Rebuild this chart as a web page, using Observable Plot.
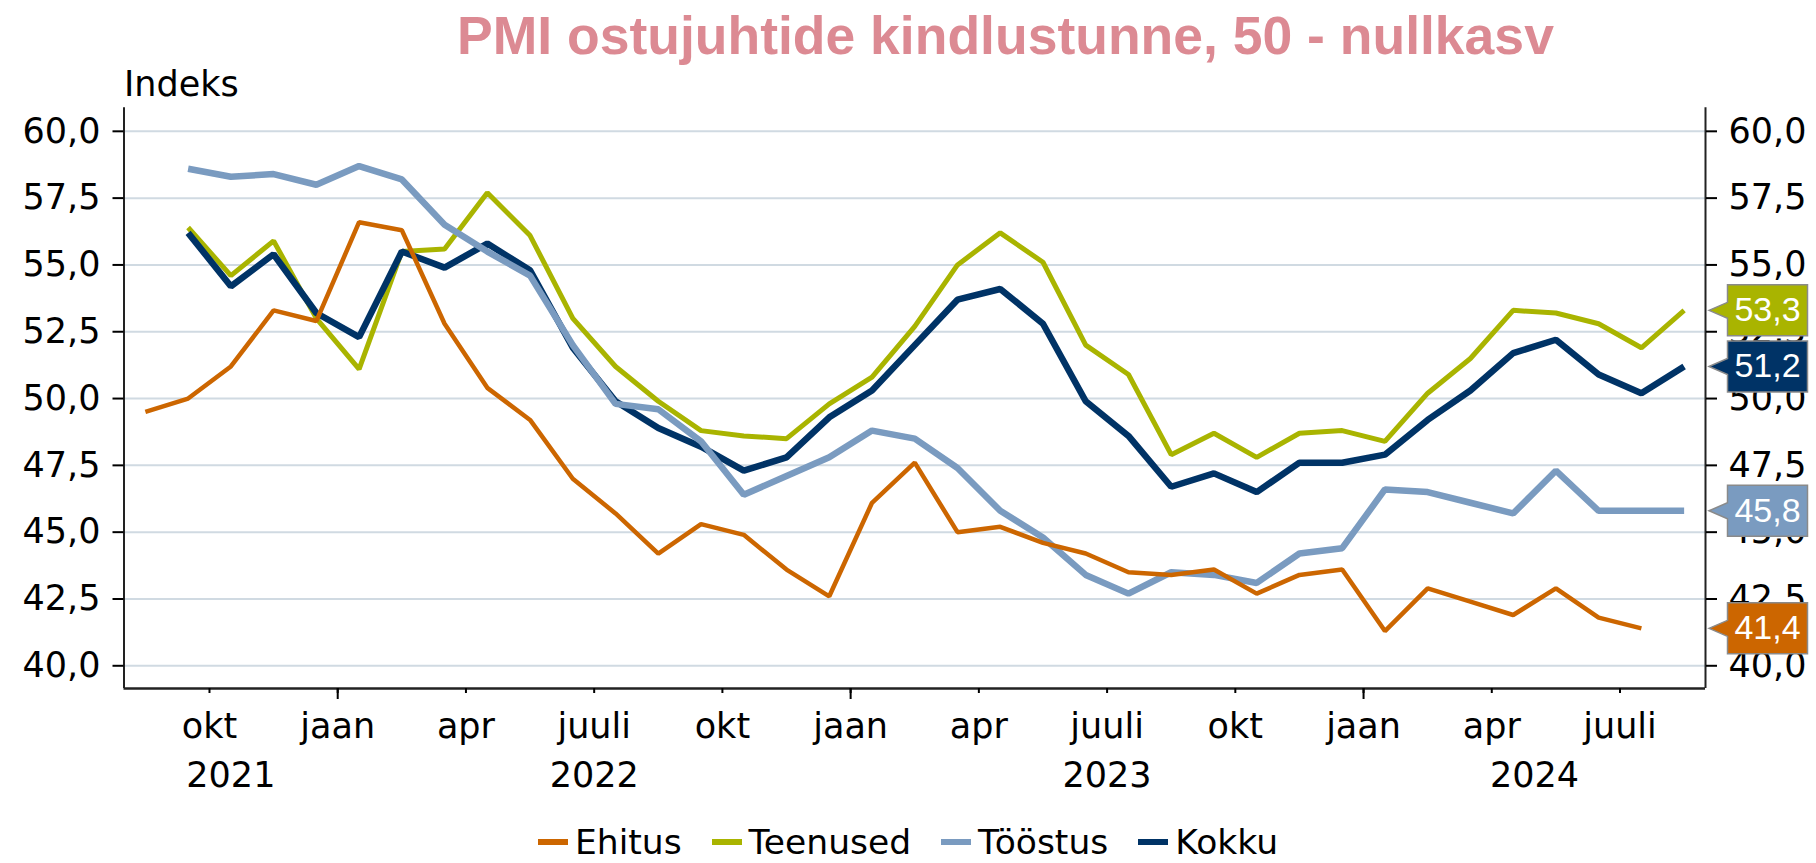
<!DOCTYPE html>
<html><head><meta charset="utf-8">
<script src="https://cdn.jsdelivr.net/npm/d3@7"></script>
<script src="https://cdn.jsdelivr.net/npm/@observablehq/plot@0.6"></script>
<style>
html,body{margin:0;padding:0;background:#fff;overflow:hidden}
#wrap{width:1816px;height:863px;position:relative;overflow:hidden}
#title{height:64px;position:relative}
#title span{position:absolute;left:457px;top:9px;font-family:"Liberation Sans",Arial,sans-serif;font-weight:bold;font-size:53.5px;line-height:1;color:#dc8a93;white-space:nowrap}
#chart svg{display:block}
#legend{height:36px;display:flex;justify-content:center;font-family:"DejaVu Sans";font-size:34.5px;line-height:36px;color:#000;position:relative;top:-3px}
.item{display:flex;align-items:center;margin:0 15px}
.sw{width:30px;height:6px;margin-right:7px}
</style></head>
<body><div id="wrap"><div id="title"><span>PMI ostujuhtide kindlustunne, 50 - nullkasv</span></div><div id="chart"></div><div id="legend"></div></div>
<script>
const months = ["2021-08","2021-09","2021-10","2021-11","2021-12",
  "2022-01","2022-02","2022-03","2022-04","2022-05","2022-06","2022-07","2022-08","2022-09","2022-10","2022-11","2022-12",
  "2023-01","2023-02","2023-03","2023-04","2023-05","2023-06","2023-07","2023-08","2023-09","2023-10","2023-11","2023-12",
  "2024-01","2024-02","2024-03","2024-04","2024-05","2024-06","2024-07","2024-08"];
const ehitus = [49.5,50.0,51.2,53.3,52.9,
  56.6,56.3,52.8,50.4,49.2,47.0,45.7,44.2,45.3,44.9,43.6,42.6,
  46.1,47.6,45.0,45.2,44.6,44.2,43.5,43.4,43.6,42.7,43.4,43.6,
  41.3,42.9,42.4,41.9,42.9,41.8,41.4,null];
const teenused = [null,56.4,54.6,55.9,53.0,
  51.1,55.5,55.6,57.7,56.1,53.0,51.2,49.9,48.8,48.6,48.5,49.8,
  50.8,52.7,55.0,56.2,55.1,52.0,50.9,47.9,48.7,47.8,48.7,48.8,
  48.4,50.2,51.5,53.3,53.2,52.8,51.9,53.3];
const toostus = [null,58.6,58.3,58.4,58.0,
  58.7,58.2,56.5,55.5,54.6,52.0,49.8,49.6,48.4,46.4,47.1,47.8,
  48.8,48.5,47.4,45.8,44.8,43.4,42.7,43.5,43.4,43.1,44.2,44.4,
  46.6,46.5,46.1,45.7,47.3,45.8,45.8,45.8];
const kokku = [null,56.2,54.2,55.4,53.2,
  52.3,55.5,54.9,55.8,54.8,51.9,49.9,48.9,48.2,47.3,47.8,49.3,
  50.3,52.0,53.7,54.1,52.8,49.9,48.6,46.7,47.2,46.5,47.6,47.6,
  47.9,49.2,50.3,51.7,52.2,50.9,50.2,51.2];
const seriesNames = ["Ehitus","Teenused","Tööstus","Kokku"];
const seriesColors = ["#cc6600","#a9b400","#7a9bc0","#003366"];
const seriesWidths = [4.5,5,6.5,6.5];
const quarterNames = {"01":"jaan","04":"apr","07":"juuli","10":"okt"};
const yearLabels = ["2021","2022","2023","2024"];
const yTicks = [40,42.5,45,47.5,50,52.5,55,57.5,60];
const yDomain = [39.15,60.88];
const yTitle = "Indeks";

const allValues = [ehitus, teenused, toostus, kokku];
const fmt = v => v.toFixed(1).replace(".", ",");
const rowsFor = k => months.map((m,i) => ({x: i + 0.5, y: allValues[k][i]}));
const nM = months.length;
const qTicks = months.map((m,i) => ({pos: i, mm: m.slice(5)})).filter(d => quarterNames[d.mm]);
const janTicks = qTicks.filter(d => d.mm === "01");
const yearRows = yearLabels.map(y => {
  const idx = months.map((m,i) => m.startsWith(y) ? i : -1).filter(i => i >= 0);
  return {year: y, center: (idx[0] + idx[idx.length-1] + 1) / 2};
});
const lastRows = seriesNames.map((s,k) => {
  const vals = allValues[k].filter(v => v != null);
  return {series: s, value: vals[vals.length-1], color: seriesColors[k]};
});
const callout = {draw(ctx) {
  ctx.moveTo(3.5, 0);
  ctx.lineTo(22, -8);
  ctx.lineTo(22, -25.5);
  ctx.lineTo(102, -25.5);
  ctx.lineTo(102, 25.5);
  ctx.lineTo(22, 25.5);
  ctx.lineTo(22, 8);
  ctx.closePath();
}};
const drawOrder = [1, 3, 2, 0];

const chart = Plot.plot({
  width: 1816, height: 763,
  marginTop: 43.3, marginBottom: 139, marginLeft: 123.5, marginRight: 111,
  x: {type: "linear", domain: [0, nM], label: null},
  y: {domain: yDomain, label: null},
  color: {type: "identity"},
  style: {fontFamily: "DejaVu Sans", background: "white", overflow: "visible", color: "#000"},
  marks: [
    Plot.gridY(yTicks, {stroke: "#d0dae2", strokeWidth: 2, strokeOpacity: 1}),
    ...drawOrder.map(k => Plot.line(rowsFor(k), {x: "x", y: "y", stroke: seriesColors[k], strokeWidth: seriesWidths[k], strokeLinejoin: "miter", strokeLinecap: "butt"})),
    Plot.ruleX([0, nM], {y1: yDomain[0], y2: yDomain[1], stroke: "#222", strokeWidth: 2}),
    Plot.ruleY([yDomain[0]], {stroke: "#222", strokeWidth: 2.5}),
    Plot.axisY(yTicks, {anchor: "left", tickSize: 11, tickPadding: 12.5, tickFormat: fmt, fontSize: 35, strokeWidth: 2, label: null}),
    Plot.axisY(yTicks, {anchor: "right", tickSize: 11, tickPadding: 12, tickFormat: fmt, fontSize: 35, strokeWidth: 2, label: null}),
    Plot.axisX(qTicks.map(d => d.pos), {tickSize: 5, tickFormat: () => "", strokeWidth: 2, label: null}),
    Plot.axisX(janTicks.map(d => d.pos), {tickSize: 11, tickFormat: () => "", strokeWidth: 2, label: null}),
    Plot.text(qTicks, {x: "pos", text: d => quarterNames[d.mm], frameAnchor: "bottom", dy: 49.7, lineAnchor: "bottom", fontSize: 35, fill: "#000"}),
    Plot.text(yearRows, {x: "center", text: "year", frameAnchor: "bottom", dy: 98.7, lineAnchor: "bottom", fontSize: 35, fill: "#000"}),
    Plot.text([yTitle], {text: d => d, frameAnchor: "top-left", textAnchor: "start", lineAnchor: "bottom", dy: -12.3, fontSize: 35, fill: "#000"}),
    Plot.dot(lastRows, {x: nM, y: "value", fill: "color", stroke: "#8a8a8a", strokeWidth: 1.5, symbol: callout}),
    Plot.text(lastRows, {x: nM, y: "value", text: d => fmt(d.value), dx: 62, fill: "white", fontSize: 34, fontFamily: "Liberation Sans", textAnchor: "middle"})
  ]
});
document.getElementById("chart").appendChild(chart);

const legend = document.getElementById("legend");
seriesNames.forEach((s,k) => {
  const it = document.createElement("div"); it.className = "item";
  const sw = document.createElement("span"); sw.className = "sw"; sw.style.background = seriesColors[k];
  const tx = document.createElement("span"); tx.textContent = s;
  it.appendChild(sw); it.appendChild(tx); legend.appendChild(it);
});
</script>
</body></html>
